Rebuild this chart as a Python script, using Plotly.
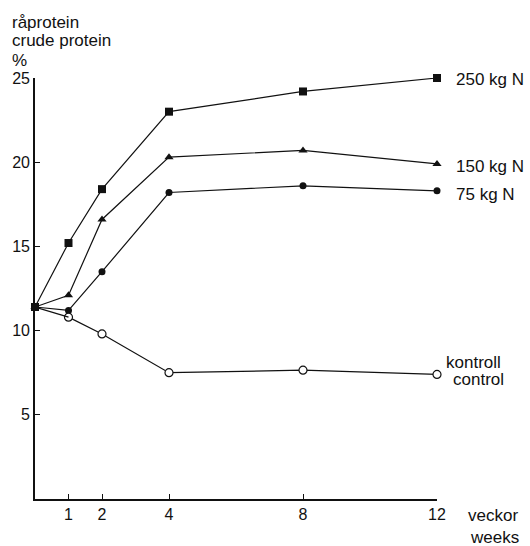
import plotly.graph_objects as go

weeks = [0, 1, 2, 4, 8, 12]
n250 = [11.4, 15.2, 18.4, 23.0, 24.2, 25.0]
n150 = [11.4, 12.1, 16.6, 20.3, 20.7, 19.9]
n75 = [11.4, 11.2, 13.5, 18.2, 18.6, 18.3]
kontroll = [11.4, 10.8, 9.8, 7.5, 7.65, 7.4]

x_ticks = [1, 2, 4, 8, 12]
y_ticks = [5, 10, 15, 20, 25]

FONT = "Liberation Sans, Arial, Helvetica, sans-serif"
BLACK = "#111111"

fig = go.Figure()
line = dict(color=BLACK, width=1.2)
fig.add_trace(go.Scatter(x=weeks, y=n250, mode="lines+markers", line=line,
                         marker=dict(symbol="square", size=8, color=BLACK), cliponaxis=False))
fig.add_trace(go.Scatter(x=weeks, y=n150, mode="lines+markers", line=line,
                         marker=dict(symbol="triangle-up", size=8, color=BLACK), cliponaxis=False))
fig.add_trace(go.Scatter(x=weeks, y=n75, mode="lines+markers", line=line,
                         marker=dict(symbol="circle", size=7, color=BLACK), cliponaxis=False))
fig.add_trace(go.Scatter(x=weeks[1:], y=kontroll[1:], mode="lines+markers", line=line,
                         marker=dict(symbol="circle", size=8, color="white",
                                     line=dict(color=BLACK, width=1.2)), cliponaxis=False))
fig.add_trace(go.Scatter(x=weeks[:2], y=kontroll[:2], mode="lines", line=line, cliponaxis=False))
fig.add_trace(go.Scatter(x=[0], y=[11.4], mode="markers",
                         marker=dict(symbol="circle", size=8, color=BLACK), cliponaxis=False))

ann = []
def a(text, x, y, xshift=0, yshift=0, xanchor="left", size=17):
    ann.append(dict(text=text, x=x, y=y, xref="x", yref="y", xshift=xshift, yshift=yshift,
                    xanchor=xanchor, yanchor="middle", showarrow=False, borderpad=0,
                    font=dict(family=FONT, size=size, color=BLACK)))

a("250 kg N", 12, n250[-1], xshift=18, yshift=-1)
a("150 kg N", 12, n150[-1], xshift=18, yshift=-3)
a("75 kg N", 12, n75[-1], xshift=18, yshift=-4)
a("kontroll", 12, kontroll[-1], xshift=8, yshift=12)
a("control", 12, kontroll[-1], xshift=15, yshift=-5)
a("veckor", 12, 0, xshift=30, yshift=-16)
a("weeks", 12, 0, xshift=32, yshift=-38)
a("råprotein", 0, 25, xshift=-24, yshift=56)
a("crude protein", 0, 25, xshift=-24, yshift=38)
a("%", 0, 25, xshift=-24, yshift=18)

fig.update_layout(
    width=530, height=546,
    margin=dict(l=33, r=93, t=78, b=47),
    paper_bgcolor="white", plot_bgcolor="white",
    showlegend=False,
    annotations=ann,
    font=dict(family=FONT, size=16, color=BLACK),
    xaxis=dict(range=[0, 12], tickvals=x_ticks, ticktext=[str(v) for v in x_ticks],
               showgrid=False, zeroline=False, showline=True, linecolor=BLACK, linewidth=1.6,
               ticks="inside", ticklen=5, tickcolor=BLACK, tickwidth=1.2,
               tickfont=dict(family=FONT, size=16, color=BLACK)),
    yaxis=dict(range=[0, 25], tickvals=y_ticks, ticktext=[str(v) for v in y_ticks],
               showgrid=False, zeroline=False, showline=True, linecolor=BLACK, linewidth=1.6,
               ticks="inside", ticklen=5, tickcolor=BLACK, tickwidth=1.2,
               tickfont=dict(family=FONT, size=16, color=BLACK)),
)

fig.write_html("out.html", config={"displayModeBar": False},
               post_script="document.body.style.margin='0';document.body.style.overflow='hidden';")
